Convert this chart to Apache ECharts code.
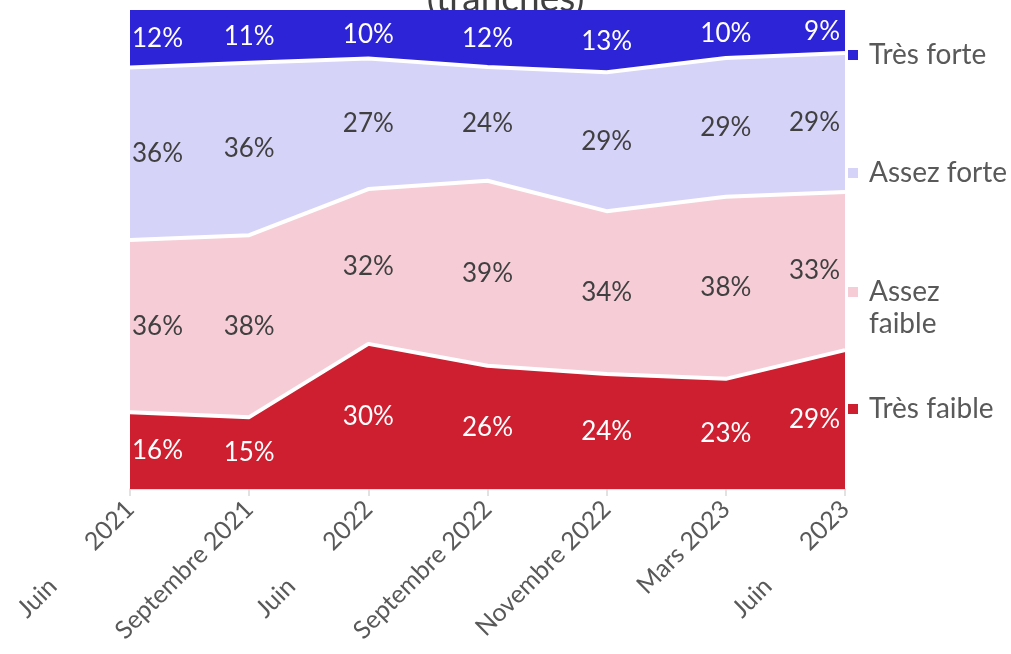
<!DOCTYPE html>
<html>
<head>
<meta charset="utf-8">
<script src="https://cdn.jsdelivr.net/npm/echarts@6/dist/echarts.min.js"></script>
<style>html,body{margin:0;padding:0;background:#fff;}#c{width:1011px;height:654px;}</style>
</head>
<body>
<div id="c"></div>
<script>
const categories = ['Juin 2021','Septembre 2021','Juin 2022','Septembre 2022','Novembre 2022','Mars 2023','Juin 2023'];
const tresFaible  = [16,15,30,26,24,23,29];
const assezFaible = [36,38,32,39,34,38,33];
const assezForte  = [36,36,27,24,29,29,29];
const tresForte   = [12,11,10,12,13,10,9];
const seriesNames = ['Très faible','Assez faible','Assez forte','Très forte'];

const raw = [tresFaible, assezFaible, assezForte, tresForte];
const colors = ['#CE1F30','#F6CDD6','#D5D3F7','#2D23D7'];
const labelColors = ['#ffffff','#404040','#404040','#ffffff'];
const FONT = 'Lato, "Open Sans", sans-serif';

const totals = categories.map((_, i) => raw.reduce((s, a) => s + a[i], 0));
const norm = raw.map(a => a.map((v, i) => v / totals[i] * 100));

const series = [];
norm.forEach((arr, k) => {
  series.push({
    name: seriesNames[k],
    type: 'line',
    stack: 'total',
    data: arr,
    symbol: 'none',
    z: 10 - k,
    color: colors[k],
    itemStyle: { color: colors[k] },
    lineStyle: { color: '#ffffff', width: k === 3 ? 0 : 4 },
    areaStyle: { color: colors[k], opacity: 1 },
    emphasis: { disabled: true },
    silent: true
  });
});
// label positions at the middle of each band
norm.forEach((arr, k) => {
  const data = arr.map((v, i) => {
    let below = 0;
    for (let j = 0; j < k; j++) below += norm[j][i];
    const item = { value: [i, below + v / 2] };
    if (i === 0) item.label = { align: 'left', offset: [2, 0] };
    if (i === categories.length - 1) item.label = { align: 'right', offset: [-5, 0] };
    return item;
  });
  series.push({
    type: 'scatter',
    data: data,
    symbol: 'circle',
    symbolSize: 1,
    itemStyle: { color: 'rgba(0,0,0,0)', opacity: 1 },
    z: 20,
    silent: true,
    emphasis: { disabled: true },
    label: {
      show: true,
      position: 'inside',
      color: labelColors[k],
      opacity: 1,
      fontFamily: FONT,
      fontSize: 26,
      formatter: p => raw[k][p.dataIndex] + '%'
    }
  });
});

const legendTops = { 'Très forte': 39, 'Assez forte': 157, 'Assez faible': 244, 'Très faible': 393 };
const legends = ['Très forte','Assez forte','Assez faible','Très faible'].map(n => ({
  data: [n],
  orient: 'vertical',
  left: 848,
  top: legendTops[n],
  padding: 0,
  icon: 'rect',
  itemWidth: 10,
  itemHeight: 10,
  selectedMode: false,
  formatter: n === 'Assez faible' ? () => '\nAssez\nfaible' : undefined,
  textStyle: {
    color: '#595959',
    fontFamily: FONT,
    fontSize: 28,
    lineHeight: 32,
    padding: [0, 0, 0, 6]
  }
}));

const chart = echarts.init(document.getElementById('c'), null, { renderer: 'canvas' });
chart.setOption({
  animation: false,
  backgroundColor: '#ffffff',
  title: {
    text: '(tranches)',
    left: 'center',
    top: -19,
    padding: 0,
    textStyle: { color: '#404040', fontFamily: FONT, fontSize: 37, fontWeight: 'normal' }
  },
  grid: { left: 130, right: 166, top: 10, bottom: 165, containLabel: false, outerBoundsMode: 'none' },
  legend: legends,
  xAxis: {
    type: 'category',
    data: categories,
    boundaryGap: false,
    axisLine: { lineStyle: { color: '#D9D9D9', width: 1.5 } },
    axisTick: { show: true, length: 7, alignWithLabel: true, lineStyle: { color: '#D9D9D9', width: 1.5 } },
    axisLabel: {
      interval: 0,
      rotate: 45,
      margin: 16,
      color: '#595959',
      fontFamily: FONT,
      fontSize: 25,
      formatter: v => v.startsWith('Juin') ? v.replace(' ', '\u00a0'.repeat(8)) : v
    },
    splitLine: { show: false }
  },
  yAxis: {
    type: 'value',
    min: 0,
    max: 100,
    show: false
  },
  series: series
});
</script>
</body>
</html>
